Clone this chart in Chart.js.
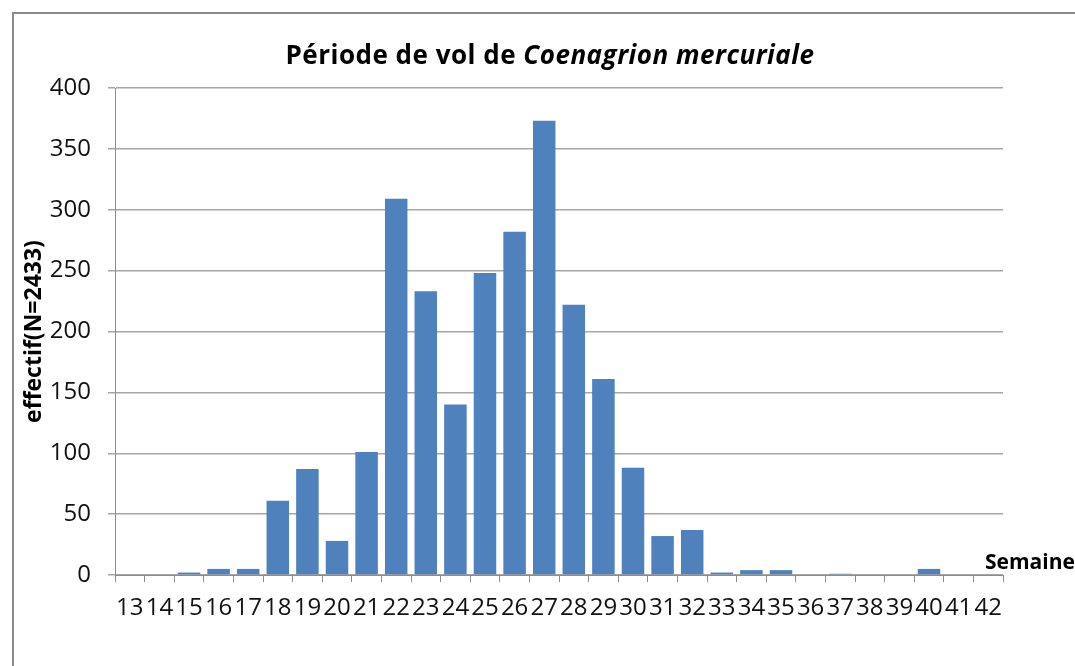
<!DOCTYPE html>
<html>
<head>
<meta charset="utf-8">
<script src="https://cdn.jsdelivr.net/npm/chart.js@4.4.1/dist/chart.umd.min.js"></script>
<style>
    body { margin: 0; background: #fff; overflow: hidden; }
    #wrap { position: relative; width: 1075px; height: 666px; }
    #frame {
        position: absolute; left: 12px; top: 12px; right: -10px; bottom: -10px;
        border-left: 2px solid #8c8c8c; border-top: 2px solid #8c8c8c;
        pointer-events: none;
    }
    #title {
        position: absolute; left: 150px; width: 800px; top: 38px;
        text-align: center; font: bold 26px "Open Sans", sans-serif; color: #000;
        line-height: 32px; letter-spacing: 0.5px;
    }
</style>
</head>
<body>
<div id="wrap">
    <canvas id="chart" width="1075" height="666"></canvas>
    <div id="title">Période de vol de <i>Coenagrion mercuriale</i></div>
    <div id="frame"></div>
</div>
<script>
// semaines 13 -> 42
const weeks = ['13', '14', '15', '16', '17', '18', '19', '20', '21', '22',
    '23', '24', '25', '26', '27', '28', '29', '30', '31', '32',
    '33', '34', '35', '36', '37', '38', '39', '40', '41', '42'];

// effectif par semaine
const counts = [0, 0, 2, 5, 5, 61, 87, 28, 101, 309,
    233, 140, 248, 282, 373, 222, 161, 88, 32, 37,
    2, 4, 4, 0, 1, 0, 0, 5, 0, 0];

const yTicks = [0, 50, 100, 150, 200, 250, 300, 350, 400];

const axisLabel = 'Semaine';
const yTitle = 'effectif(N=2433)';

// texte "Semaine" au bout de l'axe X
const semainePlugin = {
    id: 'semaine',
    afterDraw(chart) {
        const ctx = chart.ctx;
        const y = chart.scales.y.getPixelForValue(0);
        ctx.save();
        ctx.font = 'bold 21px "Open Sans", sans-serif';
        ctx.fillStyle = '#000';
        ctx.textBaseline = 'middle';
        ctx.fillText(axisLabel, 985, y - 12);
        ctx.restore();
    }
};

const ctx = document.getElementById('chart').getContext('2d');
new Chart(ctx, {
    type: 'bar',
    data: {
        labels: weeks,
        datasets: [{
            label: 'effectif',
            data: counts,
            backgroundColor: '#4f81bd',
            borderWidth: 0,
            categoryPercentage: 1,
            barPercentage: 0.76
        }]
    },
    options: {
        responsive: false,
        animation: false,
        layout: { padding: { top: 88, right: 72, left: 0, bottom: 0 } },
        plugins: {
            legend: { display: false },
            title: { display: false },
            tooltip: { enabled: false }
        },
        scales: {
            x: {
                afterFit: (scale) => { scale.height = 91; },
                grid: {
                    offset: true,
                    drawOnChartArea: false,
                    drawTicks: true,
                    tickLength: 7,
                    color: '#8c8c8c'
                },
                border: { display: true, color: '#8c8c8c', width: 1 },
                ticks: {
                    autoSkip: false,
                    maxRotation: 0,
                    minRotation: 0,
                    padding: 12,
                    color: '#111',
                    font: { family: 'Open Sans', size: 24 }
                }
            },
            y: {
                min: 0,
                max: 400,
                afterFit: (scale) => { scale.width = 115; },
                afterBuildTicks: (scale) => {
                    scale.ticks = yTicks.map(v => ({ value: v }));
                },
                grid: {
                    color: '#a6a6a6',
                    lineWidth: 1.5,
                    tickLength: 7
                },
                border: { display: true, color: '#8c8c8c', width: 1 },
                ticks: {
                    padding: 17,
                    color: '#111',
                    font: { family: 'Open Sans', size: 24 }
                },
                title: {
                    display: true,
                    text: yTitle,
                    color: '#000',
                    padding: { top: 21, bottom: 0 },
                    font: { family: 'Open Sans', size: 23, weight: 'bold' }
                }
            }
        }
    },
    plugins: [semainePlugin]
});
</script>
</body>
</html>
